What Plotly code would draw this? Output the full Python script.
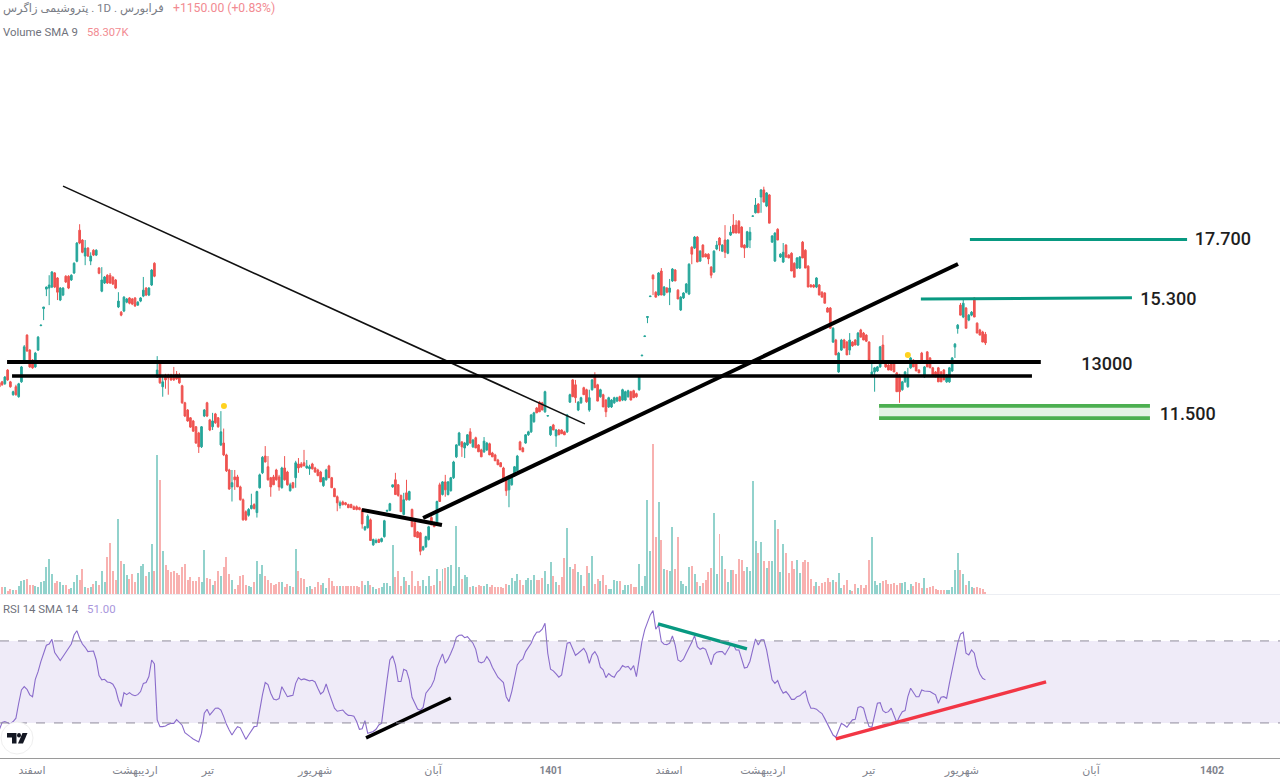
import plotly.graph_objects as go

opens = [
12310,12340,12280,12710,12340,11950,12190,11890,12340,12970,
13870,13360,13030,12810,13360,14200,14820,15560,15600,15640,
16200,16000,15140,15330,16070,16070,15920,16200,16680,18030,
17590,16900,17240,16690,17150,16940,16400,15480,15800,16110,
16110,16030,15920,14880,14690,14730,15060,15220,15180,15220,
14950,15100,15290,15600,15330,15720,16600,12490,12930,12190,
12550,12550,12550,12550,12580,12550,12220,11710,11500,11280,
11190,11030,10860,10490,11330,11710,11220,11030,11390,11280,
10540,10590,10280,9900,9490,9730,9730,9490,9190,8920,
8840,8990,9080,8900,9470,9830,10250,9980,9710,9730,
9900,9730,9470,9950,9850,9400,9590,9710,10050,10050,
10080,9950,9930,10050,9950,9900,9850,9520,9660,10000,
9710,9450,9260,9060,9140,9120,9080,9080,9030,9030,
9010,8970,8530,8570,8740,8210,8260,8320,8280,8380,
8930,8950,9490,9660,9540,9290,8860,9350,9190,8970,
8680,8480,8460,8110,8170,8320,8790,8680,8630,9540,
9310,9610,9310,9400,9710,10230,10540,10620,10460,10540,
10890,10490,10730,10540,10410,10360,10410,10570,10330,10280,
10150,10080,9950,9710,9420,9540,9760,9880,10620,10460,
10590,10810,10890,11170,11560,11730,11710,11450,11330,10810,
11080,10780,10940,10940,10890,10890,11730,12400,12250,11500,
11710,12160,12100,11500,12100,12490,12250,11890,11950,11790,
11590,11590,11710,11760,11890,11790,11790,11890,12040,12070,
11980,12100,13170,13820,14490,15270,16110,15440,15330,16280,
15330,15600,15440,15880,16320,15520,14770,15220,15440,15370,
17280,17240,17720,16690,17370,16980,16980,16440,16240,17200,
17680,17110,17590,17020,17810,18260,18260,18440,18170,17370,
17280,17590,18670,18830,19250,19590,19940,19150,19690,17500,
16690,18070,16860,16650,17370,16940,17020,16600,16400,16400,
17500,17150,16480,15720,15720,15640,15720,15440,15410,14840,
14840,13630,13700,12650,13360,13700,13630,13360,13630,13700,
13530,14050,13940,13870,13630,12550,12650,12680,12810,13530,
13000,12870,13000,13000,12620,12550,12100,12340,12190,12780,
13030,13000,12710,13260,12490,13300,13100,12780,12650,12780,
12650,12710,12340,12340,12680,13460,14100,14950,14510,14840,
14400,14580,15220,14290,14050,13980,13900]
highs = [
12340,12370,12520,12740,12370,12070,12250,12310,12840,13530,
13900,13390,13060,13300,13840,14230,14880,15660,16110,16280,
16240,16030,15640,15640,16110,16110,16150,16640,17500,18300,
17630,17590,17280,17060,17190,17190,16440,16440,16080,16150,
16200,16070,15960,15440,14730,15290,15220,15250,15220,15250,
15100,15250,16040,15640,15640,16360,16640,13160,13000,12490,
12590,12590,12590,12810,12680,12620,12250,11740,11530,11300,
11220,11050,10890,11050,11530,11740,11250,11420,11420,11300,
11470,10980,10310,9930,9900,9900,9780,9520,9220,8950,
9000,9330,9110,9400,9810,10250,10510,10250,9730,9780,
9930,9780,9980,10250,9880,9590,9610,10130,10200,10100,
10410,10150,10030,10080,9980,9930,9880,9730,9930,10030,
9730,9470,9290,9170,9170,9140,9100,9100,9060,9060,
9030,8990,8610,8860,8770,8340,8340,8340,8360,8740,
8950,9120,9540,9830,9560,9310,9350,9660,9400,8990,
8700,8500,8480,8190,8400,8610,8820,8700,9170,9590,
9630,9780,9630,9730,10130,10560,10890,10640,10620,10830,
10990,10700,10760,10560,10440,10750,10620,10600,10360,10310,
10180,10100,9980,9730,9710,9800,10000,10280,10650,10490,
10830,10920,11390,11450,11590,11760,11740,12070,11340,11050,
11110,10970,10970,10960,10920,11390,11980,12430,12400,11760,
11890,12190,12130,12100,12430,12640,12280,12130,11980,11820,
11890,11820,11890,11890,11920,12130,12070,12100,12070,12100,
12010,12530,13190,13840,14530,15290,16150,15480,16240,16400,
15680,15640,15960,16400,16360,15560,15290,15440,15800,16600,
17320,17770,17770,17150,17410,17020,17020,16480,17150,17550,
17720,17410,18260,17630,18210,18770,18490,18490,18210,17410,
18000,18170,18690,19540,19290,19980,20100,19830,19730,17810,
17940,18120,17020,17460,17410,16980,17060,16640,16860,16900,
17550,17190,16520,15760,15760,16030,15760,15480,15440,14880,
14880,14150,13740,13300,13740,13740,13670,13940,13660,13730,
13980,14090,13980,13900,13660,13030,12810,12840,13500,13870,
13030,12900,13030,13030,12650,12590,12370,12680,12780,13130,
13060,13030,12740,13300,12840,13330,13130,12810,12680,12810,
12680,12740,12580,12810,13130,13600,14260,15030,15180,14880,
14620,14730,15250,14320,14090,14020,13980]
lows = [
12160,12220,12250,12370,12160,11920,11920,11860,12310,12940,
13300,12780,12750,12780,13330,14190,14400,15290,14950,15600,
15600,15140,15100,15290,15800,15560,15880,16160,16640,17410,
17020,16520,16860,16520,16900,16900,16150,15440,15760,15760,
15760,15720,15560,14840,14540,14690,15020,14980,14950,14880,
14920,15060,15250,15290,15290,15680,16030,12460,12280,11890,
12130,11950,12370,12370,12400,12280,11680,11300,11170,11000,
10890,10570,10330,10460,11300,11300,10910,10940,11110,11000,
10510,10250,9850,9420,9150,9420,9490,9170,8720,8720,
8810,8970,8970,8790,9450,9800,10090,9640,9260,9540,
9640,9400,9450,9640,9520,9380,9450,9470,9830,9950,
10000,9930,9780,9910,9830,9750,9610,9490,9640,9710,
9470,9260,8930,8990,9060,9060,9000,9000,8970,8950,
8950,8550,8500,8550,8300,8190,8240,8260,8260,8360,
8920,8930,9470,9310,9260,8920,8840,9170,9170,8590,
8380,8360,8000,8090,8150,8300,8630,8590,8610,9150,
9290,9260,9290,9380,9680,10200,10510,10230,10200,10510,
10570,10460,10460,10360,10230,10330,10380,10280,10230,10130,
10030,9980,9660,9280,9020,9520,9730,9850,10410,10360,
10570,10780,10860,11140,11420,11450,11500,11420,11320,10780,
10940,10490,10810,10840,10810,10860,11710,11890,11710,11470,
11680,11950,11710,11450,12070,12160,11760,11860,11590,11300,
11560,11560,11680,11730,11760,11760,11760,11860,11790,11860,
11860,12070,13160,13810,14290,15260,15330,15250,15290,15330,
15290,15400,14950,15840,15880,15180,14730,15180,15400,15330,
16560,17200,16650,16650,16860,16860,16560,15990,16200,17150,
17110,17070,16820,16980,17770,17900,17900,17900,17280,16820,
17240,17240,18660,18800,18830,18830,19340,19100,18350,17460,
16650,17590,16820,16610,16820,16820,16280,16030,16360,16360,
16820,16400,15640,15640,15600,15600,15330,15250,15020,14690,
14110,13600,13200,12620,13330,13430,13200,13200,13470,13530,
13500,13800,13700,13630,13030,12490,12040,12650,12780,13000,
12780,12710,12680,12650,12040,11710,12070,12310,12160,12750,
12810,12680,12620,12970,12460,12810,12780,12550,12490,12340,
12340,12400,12310,12310,12650,13100,13920,14580,14470,14110,
14360,14540,14510,13940,13870,13630,13530]
closes = [
12190,12250,12490,12400,12190,12040,11950,12280,12810,13470,
13330,12810,12780,13260,13800,14220,14880,15640,15720,16240,
15640,15440,15600,15600,15840,15600,16110,16600,17460,17460,
17060,17240,16900,16900,16940,17150,16190,15920,16040,15800,
15800,15760,15600,15100,14580,15250,15180,15020,14990,14920,
15060,15220,15520,15330,15600,16320,16070,12710,12310,12340,
12400,12460,12400,12400,12430,12310,11710,11330,11190,11020,
10910,10590,10490,11030,11500,11330,10940,11190,11140,11030,
10890,10280,9880,9440,9590,9660,9490,9190,8740,8740,
8970,9060,8990,9380,9780,10220,10100,9660,9490,9540,
9660,9490,9950,9660,9540,9540,9470,10080,9950,9980,
10000,10000,9980,9930,9850,9760,9610,9710,9900,9710,
9470,9260,9120,9120,9080,9080,9010,9010,8970,8970,
8970,8650,8590,8820,8300,8320,8300,8260,8340,8720,
8950,9100,9540,9310,9290,8920,9190,9190,9380,8590,
8380,8360,8080,8170,8380,8590,8630,8590,9150,9150,
9610,9420,9610,9710,10100,10540,10860,10490,10590,10810,
10590,10670,10460,10360,10230,10640,10590,10280,10230,10130,
10030,9980,9660,9400,9660,9780,9980,10250,10410,10360,
10810,10890,11360,11420,11420,11450,11500,12040,11340,11030,
10940,10940,10810,10840,10810,11360,11950,11890,11860,11730,
11860,11950,11740,11860,12400,12160,11760,12100,11590,11450,
11860,11790,11860,11860,11760,12100,12040,12070,11790,11860,
11890,12490,13190,13840,14530,15290,15960,15250,16200,15330,
15640,15440,15600,16360,15880,15180,15250,15410,15760,16560,
16980,17720,16650,17110,16860,16860,16780,16110,17110,17370,
17370,17370,17060,17590,17940,17900,17900,17900,17280,17240,
17960,17940,18680,19200,18830,19940,19340,19790,18350,17770,
17900,17590,16980,17060,16860,16820,16280,16030,16820,16860,
16820,16400,15640,15640,15640,16000,15330,15250,15020,14690,
14110,14110,13200,13260,13700,13430,13200,13700,13500,13530,
13940,13800,13700,13660,13030,12650,12780,12810,13470,13000,
12810,12710,12710,12650,12040,12040,12340,12650,12550,13100,
12810,12680,12620,12970,12810,12810,12780,12550,12490,12340,
12340,12400,12550,12780,13100,13560,14220,14580,15020,14110,
14580,14690,14510,13940,13870,13630,13600]
volumes_k = [
66,66,60,30,48,39,39,75,114,129,
135,81,78,72,66,111,117,240,315,180,
96,120,108,81,81,42,54,111,168,126,
222,66,51,60,90,117,84,204,111,330,
459,210,126,678,300,270,174,135,177,111,
186,255,270,165,195,450,210,1248,1026,390,
261,216,195,204,186,171,246,270,126,156,
114,120,156,111,399,144,132,81,114,204,
165,240,330,180,126,42,84,165,171,81,
69,60,105,294,180,261,165,126,102,84,
90,108,108,60,90,75,66,405,210,144,
135,60,69,45,60,111,81,96,57,147,
120,75,75,75,75,69,75,75,75,75,
66,114,81,114,81,60,45,51,60,99,
99,75,441,156,210,75,156,114,84,210,
75,114,69,129,75,165,75,81,225,114,
225,231,240,261,75,609,240,135,171,156,
66,75,60,81,75,75,90,60,84,60,
60,60,51,90,84,144,114,177,126,84,
126,141,126,171,126,126,144,204,93,288,
162,108,84,156,324,594,246,222,270,201,
171,69,255,186,339,93,138,120,171,81,
45,48,126,120,120,36,84,84,90,66,
66,270,69,162,846,387,1350,510,831,483,
225,219,204,600,228,510,120,90,69,246,
252,177,105,69,99,126,201,237,729,177,
540,339,225,108,219,219,177,312,306,210,
243,204,1020,474,372,465,300,237,300,300,
669,585,195,447,369,192,300,222,306,186,
288,309,288,135,69,108,75,99,108,144,
108,129,108,186,57,84,129,39,24,93,
57,78,50,78,303,510,120,84,96,120,
126,93,93,102,84,102,102,108,36,93,
69,108,102,54,144,54,66,69,45,39,
33,33,33,33,60,216,372,213,180,78,
120,60,51,60,54,48,15]
rsi = [
26.6,30.2,30.7,30.2,29.5,30.7,32.3,39.6,46.1,47.7,
46.4,43.7,42.8,51.3,55.0,59.9,64.0,67.9,68.5,70.8,
64.3,62.0,60.4,62.4,64.3,66.1,68.5,72.9,75.0,71.3,
68.5,66.9,64.8,65.0,65.1,60.7,53.1,51.0,51.3,50.0,
49.7,48.9,46.4,41.2,38.0,44.8,43.8,44.8,43.7,43.3,
43.8,45.3,49.3,49.7,52.6,60.7,58.8,31.5,28.2,28.2,
28.5,29.3,29.8,29.8,31.6,30.3,28.9,25.3,24.0,23.2,
22.2,21.5,20.7,25.0,34.7,36.7,33.9,35.5,37.2,37.3,
36.3,33.1,29.3,26.6,24.1,26.3,28.2,27.6,24.6,22.0,
24.1,26.4,28.2,28.4,36.3,43.7,49.7,48.7,44.5,41.7,
41.2,41.9,47.7,45.3,42.8,43.2,43.5,49.3,52.1,51.0,
51.5,51.0,50.5,50.8,50.0,46.9,44.1,45.3,49.0,44.8,
40.4,37.2,35.7,36.0,36.3,34.7,33.7,33.6,33.3,30.7,
26.9,27.2,31.1,25.0,25.6,25.8,26.9,29.0,29.8,42.0,
51.0,60.7,62.7,58.3,50.2,50.2,56.2,55.5,51.0,42.5,
39.9,36.8,36.2,37.6,44.5,46.4,48.0,51.0,57.0,60.4,
63.7,59.1,61.1,64.0,67.2,71.8,72.8,72.9,71.6,72.1,
70.2,68.9,65.9,59.9,59.3,59.9,62.4,60.4,57.2,55.0,
52.3,51.0,49.7,42.8,40.4,45.3,52.6,58.3,60.2,61.2,
64.8,66.7,68.9,72.1,74.2,74.4,75.7,78.6,64.0,56.2,
55.4,53.9,52.3,53.4,61.5,68.9,69.3,66.4,63.0,64.0,
65.0,66.4,64.0,59.1,63.2,64.8,62.4,57.2,55.9,52.1,
54.1,52.9,52.3,54.7,55.9,58.0,57.2,57.6,55.9,58.0,
52.6,62.4,69.7,75.4,79.1,82.7,84.8,75.7,77.8,69.7,
68.4,68.2,68.9,72.4,68.0,60.7,59.9,61.1,64.0,66.4,
69.3,72.6,67.2,65.9,66.6,65.9,61.5,58.3,63.2,64.5,
64.8,64.8,63.3,65.6,68.0,68.0,65.6,65.6,60.7,56.8,
57.2,60.1,65.6,71.0,68.0,70.5,70.5,65.6,58.3,51.0,
49.3,50.7,46.9,44.5,45.3,43.7,41.5,41.5,42.8,43.2,
44.5,45.6,40.4,37.2,37.2,36.7,35.5,34.6,32.1,29.5,
26.3,24.1,23.0,26.6,29.8,29.0,27.9,29.8,31.5,31.8,
37.6,38.0,37.2,32.3,28.2,27.9,33.9,39.6,39.9,36.0,
35.0,35.5,37.2,33.4,30.2,33.1,35.5,36.0,42.8,46.9,
44.8,42.8,42.8,46.1,45.6,45.3,45.3,44.5,43.7,39.6,
42.5,42.8,42.0,49.3,55.9,62.8,68.9,73.3,74.2,64.0,
63.2,65.6,64.0,57.5,53.9,51.8,51.0]

tick_positions = [11.8, 49, 75.3, 114, 156.6, 199.2, 241.8, 275.7, 314, 347.5, 394.1, 437.8]
tick_labels = ["اسفند", "اردیبهشت", "تیر", "شهریور", "آبان",
               "<span style='font-size:10px'><b>1401</b></span>",
               "اسفند", "اردیبهشت", "تیر", "شهریور", "آبان",
               "<span style='font-size:10.5px'><b>1402</b></span>"]

thin_trend_x, thin_trend_y = [23, 211.4], [20130, 11110]
rising_trend_x, rising_trend_y = [153, 346.1], [8780, 16570]
short_trend_x, short_trend_y = [130.9, 159.8], [8960, 8630]
upper_band_x, upper_band_y = [2.8, 376], [12970, 12970]
lower_band_x, lower_band_y = [4.6, 372.8], [12520, 12520]
target_high_x, target_high_y = [350.4, 428.8], [17615, 17615]
target_mid_x, target_mid_y = [332.7, 408.9], [15180, 15230]
support_x = [317.6, 415.4]
support_top, support_bottom = [11620, 11620], [11270, 11270]
marker_x, marker_y = [81.1, 328], [11620, 13200]
level_x = [431.6, 411.9, 390.6, 418.9]
level_y = [17585, 15130, 12840, 11340]
level_text = ["17.700", "15.300", "13000", "11.500"]
rsi_black_x, rsi_black_y = [132.4, 163], [22.7, 42.2]
rsi_teal_x, rsi_teal_y = [237.8, 269.9], [78.3, 66.1]
rsi_red_x, rsi_red_y = [302, 377.9], [22.2, 50]

W, H = 1280, 781
UP, DOWN = "#26A69A", "#EF5350"
idx = list(range(len(closes)))
vol_colors = ["rgba(38,166,154,0.5)" if c >= o else "rgba(239,83,80,0.45)" for o, c in zip(opens, closes)]

def pxx(x):
    return x / W

def pxy(y):
    return 1 - y / H

fig = go.Figure()
fig.add_trace(go.Bar(x=idx, y=volumes_k, width=0.72, marker=dict(color=vol_colors, line_width=0),
                     yaxis="y2", hoverinfo="skip", showlegend=False))
fig.add_trace(go.Candlestick(x=idx, open=opens, high=highs, low=lows, close=closes, yaxis="y",
                             increasing=dict(line=dict(color=UP, width=1), fillcolor=UP),
                             decreasing=dict(line=dict(color=DOWN, width=1), fillcolor=DOWN),
                             whiskerwidth=0, hoverinfo="skip", showlegend=False))

def line(x, y, color, width, axis="y"):
    fig.add_trace(go.Scatter(x=x, y=y, mode="lines", line=dict(color=color, width=width), yaxis=axis,
                             hoverinfo="skip", showlegend=False))

line(thin_trend_x, thin_trend_y, "#111111", 1.6)
line(upper_band_x, upper_band_y, "#000000", 4)
line(lower_band_x, lower_band_y, "#000000", 3.6)
line(rising_trend_x, rising_trend_y, "#000000", 4)
line(short_trend_x, short_trend_y, "#000000", 4)
line(target_high_x, target_high_y, "#089981", 3)
line(target_mid_x, target_mid_y, "#089981", 3)
line(support_x, support_top, "#4CAF50", 3.6)
fig.add_trace(go.Scatter(x=support_x, y=support_bottom, mode="lines", line=dict(color="#4CAF50", width=3.6),
                         fill="tonexty", fillcolor="rgba(76,175,80,0.15)", yaxis="y",
                         hoverinfo="skip", showlegend=False))
fig.add_trace(go.Scatter(x=marker_x, y=marker_y, mode="markers", marker=dict(color="#FFD21F", size=6),
                         yaxis="y", hoverinfo="skip", showlegend=False))
fig.add_trace(go.Scatter(x=level_x, y=level_y, mode="text", text=level_text, textposition="middle right",
                         textfont=dict(family="Roboto, sans-serif", size=18, color="#1E1E1E", weight=500),
                         yaxis="y", hoverinfo="skip", showlegend=False))
line(idx, rsi, "#8A6CCB", 1.1, "y3")
line(rsi_black_x, rsi_black_y, "#000000", 3.4, "y3")
line(rsi_teal_x, rsi_teal_y, "#089981", 3.4, "y3")
line(rsi_red_x, rsi_red_y, "#F23645", 3.4, "y3")

shapes = [
    dict(type="rect", xref="paper", x0=0, x1=1, yref="y3", y0=30, y1=70,
         fillcolor="rgba(126,87,194,0.12)", line_width=0, layer="below"),
    dict(type="line", xref="paper", x0=0, x1=1, yref="y3", y0=70, y1=70,
         line=dict(color="#8F8B9B", width=1, dash="dash")),
    dict(type="line", xref="paper", x0=0, x1=1, yref="y3", y0=30, y1=30,
         line=dict(color="#8F8B9B", width=1, dash="dash")),
    dict(type="line", xref="paper", x0=0, x1=1, yref="paper", y0=pxy(594.5), y1=pxy(594.5),
         line=dict(color="#ECEEF3", width=1)),
    dict(type="line", xref="paper", x0=0, x1=1, yref="paper", y0=pxy(758.5), y1=pxy(758.5),
         line=dict(color="#9A9A9A", width=1)),
    dict(type="circle", xref="paper", yref="paper", x0=pxx(1), x1=pxx(33), y0=pxy(754), y1=pxy(722),
         fillcolor="#FFFFFF", line=dict(color="#EFEFEF", width=1)),
    dict(type="path", xref="paper", yref="paper",
         path="M %f,%f L %f,%f L %f,%f L %f,%f L %f,%f L %f,%f Z" % (
             pxx(7), pxy(733), pxx(16.5), pxy(733), pxx(16.5), pxy(743.5),
             pxx(12), pxy(743.5), pxx(12), pxy(737.5), pxx(7), pxy(737.5)),
         fillcolor="#131722", line_width=0),
    dict(type="circle", xref="paper", yref="paper", x0=pxx(17), x1=pxx(21), y0=pxy(737.5), y1=pxy(733),
         fillcolor="#131722", line_width=0),
    dict(type="path", xref="paper", yref="paper",
         path="M %f,%f L %f,%f L %f,%f L %f,%f Z" % (
             pxx(22.5), pxy(733), pxx(27.5), pxy(733), pxx(23), pxy(743.5), pxx(18), pxy(743.5)),
         fillcolor="#131722", line_width=0),
]

def note(x, y, text, color, size=11.5):
    return dict(xref="paper", yref="paper", x=pxx(x), y=pxy(y), text=text, showarrow=False,
                xanchor="left", yanchor="middle",
                font=dict(family="Roboto, 'DejaVu Sans', sans-serif", size=size, color=color))

annotations = [
    note(1, 8, "پتروشیمی زاگرس\u200e . \u200e1D . \u200eفرابورس", "#7A7D86"),
    note(171, 8, "+1150.00 (+0.83%)", "#F28B92", 12.2),
    note(1, 32, "Volume SMA 9", "#6F727C", 11.4),
    note(85, 32, "58.307K", "#F28B92", 11.2),
    note(1, 609, "RSI 14 SMA 14", "#6F727C", 11.4),
    note(85, 609, "51.00", "#A996DC", 11.4),
]

fig.update_layout(
    width=W, height=H, margin=dict(l=0, r=0, t=0, b=0),
    paper_bgcolor="#FFFFFF", plot_bgcolor="#FFFFFF", bargap=0, showlegend=False,
    boxgap=0.25, boxgroupgap=0.19,
    font=dict(family="Roboto, 'DejaVu Sans', sans-serif"),
    shapes=shapes, annotations=annotations,
    xaxis=dict(range=[0.2527, 462.35], domain=[0, 1], anchor="y3", showgrid=False, zeroline=False,
               rangeslider=dict(visible=False), tickmode="array", tickvals=tick_positions, ticktext=tick_labels,
               ticks="", ticklabelstandoff=4, tickfont=dict(size=11, color="#80838D"), showline=False),
    yaxis=dict(type="log", range=[3.8610, 4.5059], domain=[1 - 594 / H, 1], overlaying="y2", side="left",
               visible=False, showgrid=False, zeroline=False),
    yaxis2=dict(range=[0, 5346], domain=[1 - 594 / H, 1], anchor="x", visible=False,
                showgrid=False, zeroline=False),
    yaxis3=dict(range=[12.9, 92.4], domain=[1 - 758 / H, 1 - 595 / H], anchor="x", visible=False,
                showgrid=False, zeroline=False),
)

fig.write_html("out.html", config=dict(displayModeBar=False),
               post_script="document.body.style.margin='0';document.body.style.overflow='hidden';")
